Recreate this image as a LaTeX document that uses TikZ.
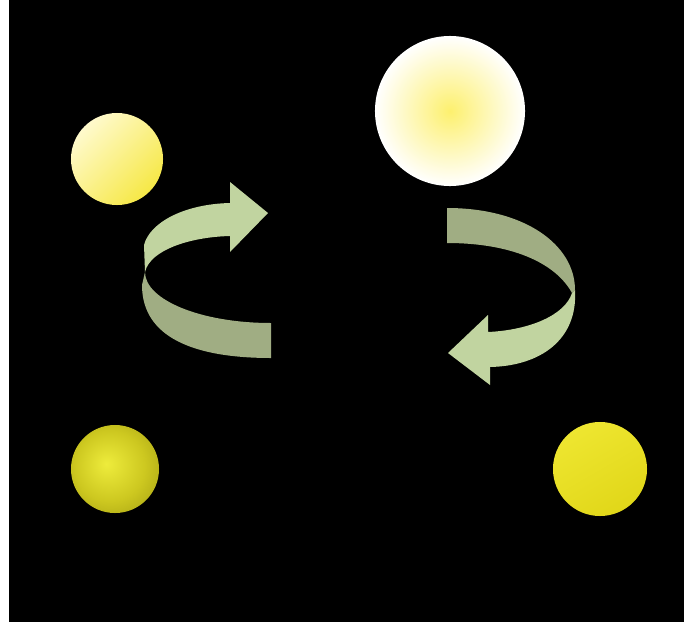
\documentclass[tikz,border=0pt]{standalone}
\usepackage{tikz}
\usetikzlibrary{shapes.geometric, positioning}

\definecolor{bandlight}{RGB}{193,212,160}
\definecolor{banddark}{RGB}{160,173,131}
\definecolor{palesun}{RGB}{255,250,205}
\definecolor{midsun}{RGB}{252,243,150}
\definecolor{deepsun}{RGB}{246,232,70}
\definecolor{coresun}{RGB}{253,240,110}
\definecolor{flatsun}{RGB}{238,230,48}
\definecolor{flatsundark}{RGB}{225,215,25}

\pgfdeclareradialshading{olivesun}{\pgfpoint{-5bp}{3bp}}{%
  color(0bp)=(rgb,255:red,238;green,236;blue,60);
  color(20bp)=(rgb,255:red,205;green,200;blue,32);
  color(44bp)=(rgb,255:red,145;green,140;blue,10);
  color(50bp)=(rgb,255:red,105;green,100;blue,6)}

\begin{document}
\begin{tikzpicture}[
  x=0.025cm, y=-0.025cm,
  star/.style={circle, draw=none, inner sep=0pt, outer sep=0pt}
]

% Background
\fill[white] (0,0) rectangle (690,625);
\fill[black] (9,0) rectangle (684,622);

% Stars
\node[star, minimum size=2.3cm, top color=palesun, middle color=midsun, bottom color=deepsun, shading angle=45] (pale) at (117,159) {};
\node[star, minimum size=3.75cm, inner color=coresun, outer color=white] (giant) at (450,111) {};
\node[star, minimum size=2.2cm, shading=olivesun] (olive) at (115,469) {};
\node[star, minimum size=2.35cm, top color=flatsun, bottom color=flatsundark, shading angle=30] (bright) at (600,469) {};

% Left ribbon arrow
\fill[bandlight] (145,272) .. controls (150,250) and (190,237) .. (230,236)
  -- (230,252) -- (268,213) -- (230,182) -- (230,203)
  .. controls (185,204) and (150,222) .. (144,245) -- cycle;
\fill[banddark] (145,272) .. controls (145,300) and (201,323) .. (271,323)
  -- (271,358) .. controls (195,358) and (142,338) .. (142,285) -- cycle;

% Right ribbon arrow
\fill[banddark] (447,208) .. controls (525,208) and (575,245) .. (575,290)
  -- (572,293) .. controls (555,262) and (510,243) .. (447,243) -- cycle;
\fill[bandlight] (575,290) .. controls (578,340) and (540,366) .. (490,367)
  -- (490,385) -- (448,353) -- (488,315) -- (488,332)
  .. controls (530,330) and (565,315) .. (572,293) -- cycle;

\end{tikzpicture}
\end{document}
